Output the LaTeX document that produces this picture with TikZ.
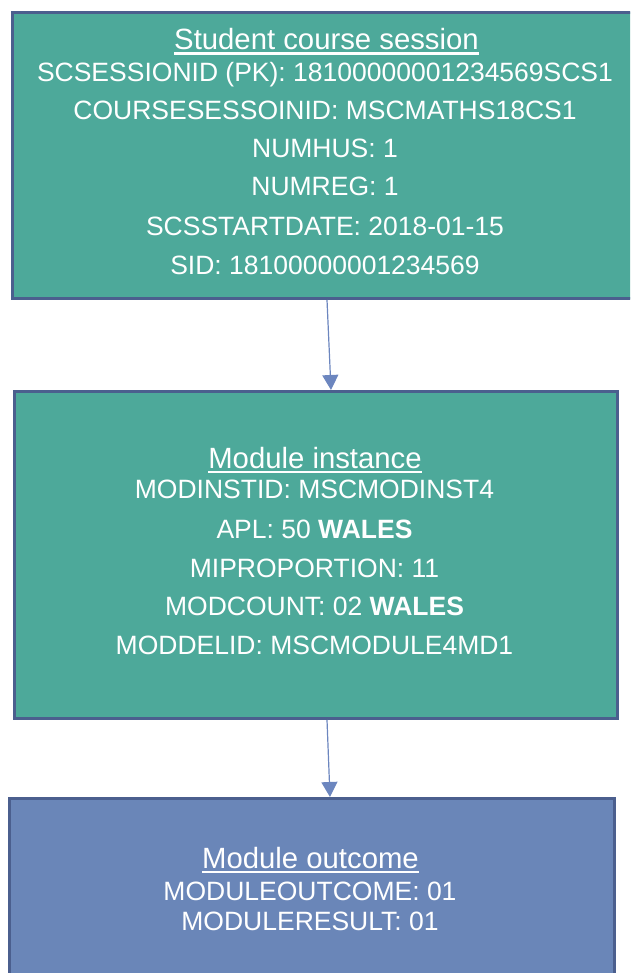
\documentclass[tikz,border=0pt]{standalone}
\usepackage{fontspec}
\setmainfont{Liberation Sans}
\usetikzlibrary{arrows.meta}
\definecolor{tealfill}{HTML}{4DA99A}
\definecolor{bluefill}{HTML}{6A86B8}
\definecolor{boxborder}{HTML}{4B5F8E}
\definecolor{arrowcol}{HTML}{6C86BF}
\tikzset{
  box/.style={draw=boxborder, line width=3pt, inner sep=0pt, anchor=north west},
  txt/.style={text=white, inner sep=0pt, anchor=base, font=\fontsize{26.5}{31}\selectfont},
  ttl/.style={text=white, inner sep=0pt, anchor=base, font=\fontsize{29.3}{34}\selectfont},
  uline/.style={white, line width=2.4pt},
  arr/.style={draw=arrowcol, line width=1.2pt, -{Triangle[length=15pt,width=16pt]}}
}
\begin{document}
\begin{tikzpicture}[x=1pt,y=-1pt]
\useasboundingbox (0,0) rectangle (630,973);
\begin{scope}
\clip (0,0) rectangle (630,973);
% boxes
\node[box, fill=tealfill, minimum width=629pt, minimum height=286pt] (b1) at (11,11) {};
\node[box, fill=tealfill, minimum width=603pt, minimum height=327pt] (b2) at (13,390) {};
\node[box, fill=bluefill, minimum width=605pt, minimum height=200pt] (b3) at (8,797) {};
\end{scope}
% box 1 text
\node[ttl] (t1) at (326.5,49.5) {Student course session};
\draw[uline] ([yshift=-4pt]t1.base west) -- ([yshift=-4pt]t1.base east);
\node[txt] (l11) at (325,82) {SCSESSIONID (PK): 18100000001234569SCS1};
\node[txt] (l12) at (325,120) {COURSESESSOINID: MSCMATHS18CS1};
\node[txt] (l13) at (325,157.5) {NUMHUS: 1};
\node[txt] (l14) at (325,196) {NUMREG: 1};
\node[txt] (l15) at (325,235.5) {SCSSTARTDATE: 2018-01-15};
\node[txt] (l16) at (325,274) {SID: 18100000001234569};
% box 2 text
\node[ttl] (t2) at (315,468) {Module instance};
\draw[uline] ([yshift=-4pt]t2.base west) -- ([yshift=-4pt]t2.base east);
\node[txt] (l21) at (314.5,498.5) {MODINSTID: MSCMODINST4};
\node[txt] (l22) at (314.5,538) {APL: 50 \textbf{WALES}};
\node[txt] (l23) at (314.5,577) {MIPROPORTION: 11};
\node[txt] (l24) at (314.5,615) {MODCOUNT: 02 \textbf{WALES}};
\node[txt] (l25) at (314.5,654) {MODDELID: MSCMODULE4MD1};
% box 3 text
\node[ttl] (t3) at (310.5,868) {Module outcome};
\draw[uline] ([yshift=-4pt]t3.base west) -- ([yshift=-4pt]t3.base east);
\node[txt] (l31) at (310,900.5) {MODULEOUTCOME: 01};
\node[txt] (l32) at (310,930) {MODULERESULT: 01};
% arrows
\draw[arr] ([xshift=316pt]b1.south west) -- ([xshift=318pt]b2.north west);
\draw[arr] ([xshift=314pt]b2.south west) -- ([xshift=322pt]b3.north west);
\end{tikzpicture}
\end{document}
